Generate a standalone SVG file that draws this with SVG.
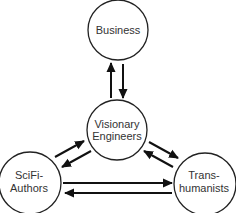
<svg xmlns="http://www.w3.org/2000/svg" width="236" height="213" viewBox="0 0 236 213">
<style>
.node circle{fill:#fff;stroke:#222;stroke-width:1.3}
.node text{font-family:"Liberation Sans",Arial,sans-serif;font-size:11px;fill:#333;text-anchor:middle}
.conn line{stroke:#111;stroke-width:2;marker-end:url(#ah)}
</style>
<defs>
<marker id="ah" markerUnits="userSpaceOnUse" markerWidth="10" markerHeight="10" refX="9" refY="5" orient="auto" viewBox="0 0 10 10">
<path d="M0,0.5 L10,5 L0,9.5 Z" fill="#111"/>
</marker>
</defs>
<rect width="236" height="213" fill="#fff"/>
<g id="business" class="node"><circle cx="118" cy="30" r="30"/><text x="118" y="33.5">Business</text></g>
<g id="visionary" class="node"><circle cx="117" cy="130" r="30"/><text x="117" y="128">Visionary</text><text x="117" y="140">Engineers</text></g>
<g id="scifi" class="node"><circle cx="30" cy="183" r="31"/><text x="29" y="179">SciFi-</text><text x="29" y="192">Authors</text></g>
<g id="trans" class="node"><circle cx="205" cy="184" r="31"/><text x="204" y="179">Trans-</text><text x="204" y="192">humanists</text></g>
<g id="connectors" class="conn">
<line x1="111" y1="98" x2="111" y2="63"/>
<line x1="123" y1="64" x2="123" y2="98"/>
<line x1="55" y1="157" x2="84" y2="141"/>
<line x1="91" y1="151" x2="62" y2="167"/>
<line x1="149" y1="142" x2="178" y2="158"/>
<line x1="173" y1="167" x2="144" y2="151"/>
<line x1="63" y1="183" x2="172" y2="183"/>
<line x1="172" y1="193" x2="65" y2="193"/>
</g>
</svg>
